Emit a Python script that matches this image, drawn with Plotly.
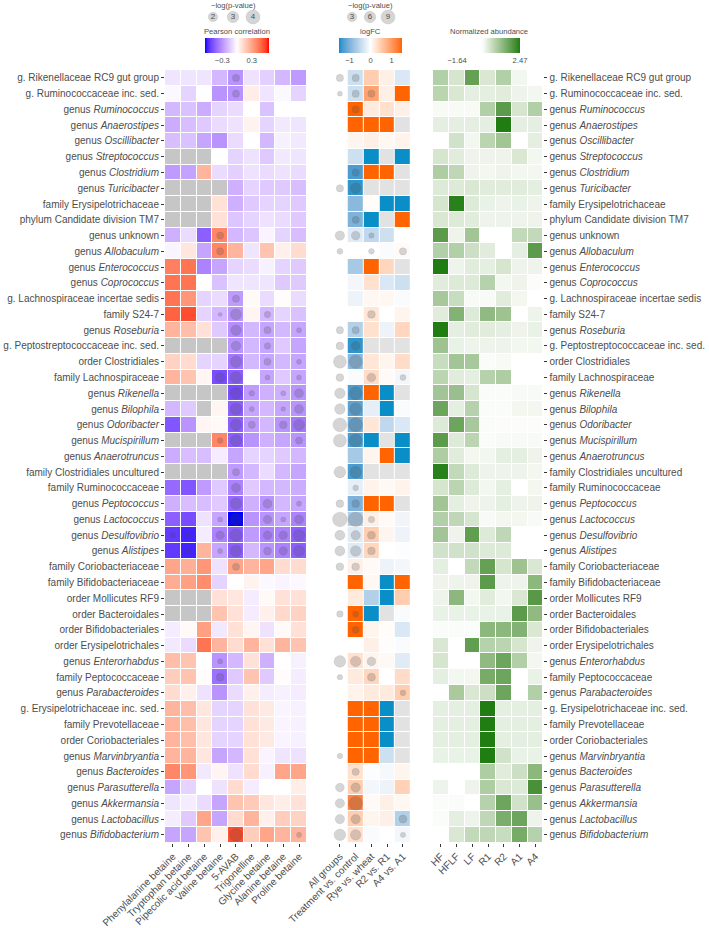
import math
import plotly.graph_objects as go

N = None
rows = [
    "g. Rikenellaceae RC9 gut group", "g. Ruminococcaceae inc. sed.",
    "genus <i>Ruminococcus</i>", "genus <i>Anaerostipes</i>", "genus <i>Oscillibacter</i>",
    "genus <i>Streptococcus</i>", "genus <i>Clostridium</i>", "genus <i>Turicibacter</i>",
    "family Erysipelotrichaceae", "phylum Candidate division TM7", "genus unknown",
    "genus <i>Allobaculum</i>", "genus <i>Enterococcus</i>", "genus <i>Coprococcus</i>",
    "g. Lachnospiraceae incertae sedis", "family S24-7", "genus <i>Roseburia</i>",
    "g. Peptostreptococcaceae inc. sed.", "order Clostridiales", "family Lachnospiraceae",
    "genus <i>Rikenella</i>", "genus <i>Bilophila</i>", "genus <i>Odoribacter</i>",
    "genus <i>Mucispirillum</i>", "genus <i>Anaerotruncus</i>", "family Clostridiales uncultured",
    "family Ruminococcaceae", "genus <i>Peptococcus</i>", "genus <i>Lactococcus</i>",
    "genus <i>Desulfovibrio</i>", "genus <i>Alistipes</i>", "family Coriobacteriaceae",
    "family Bifidobacteriaceae", "order Mollicutes RF9", "order Bacteroidales",
    "order Bifidobacteriales", "order Erysipelotrichales", "genus <i>Enterorhabdus</i>",
    "family Peptococcaceae", "genus <i>Parabacteroides</i>", "g. Erysipelotrichaceae inc. sed.",
    "family Prevotellaceae", "order Coriobacteriales", "genus <i>Marvinbryantia</i>",
    "genus <i>Bacteroides</i>", "genus <i>Parasutterella</i>", "genus <i>Akkermansia</i>",
    "genus <i>Lactobacillus</i>", "genus <i>Bifidobacterium</i>",
]

corr_cols = ["Phenylalanine betaine", "Tryptophan betaine", "Pipecolic acid betaine",
             "Valine betaine", "5-AVAB", "Trigonelline", "Glycine betaine",
             "Alanine betaine", "Proline betaine"]
fc_cols = ["All groups", "Treatment vs. control", "Rye vs. wheat", "R2 vs. R1", "A4 vs. A1"]
ab_cols = ["HF", "HFLF", "LF", "R1", "R2", "A1", "A4"]

pearson = [
    [-0.07, -0.07, -0.07, -0.2, -0.3, -0.08, -0.13, -0.2, -0.28],
    [-0.02, -0.12, 0.0, -0.3, -0.3, 0.06, -0.07, -0.02, -0.12],
    [-0.2, -0.17, -0.23, -0.12, -0.1, 0.0, -0.17, 0.0, 0.0],
    [-0.23, -0.18, -0.15, -0.1, -0.08, 0.04, -0.12, -0.06, -0.07],
    [-0.18, -0.17, -0.25, -0.3, -0.1, 0.0, -0.2, -0.04, -0.06],
    [N, N, N, 0.0, -0.12, -0.08, -0.15, -0.06, -0.07],
    [-0.28, -0.26, 0.25, -0.1, -0.13, -0.08, -0.1, -0.08, -0.1],
    [N, N, N, N, -0.22, -0.12, -0.15, -0.15, -0.18],
    [N, N, N, 0.1, -0.22, -0.15, -0.12, -0.12, -0.15],
    [N, N, N, 0.1, -0.16, -0.12, -0.08, -0.1, -0.15],
    [-0.22, -0.1, -0.45, 0.4, -0.2, -0.16, -0.03, -0.12, -0.18],
    [-0.03, 0.08, -0.25, 0.4, 0.25, -0.07, 0.2, 0.05, 0.12],
    [0.42, 0.45, -0.35, -0.25, -0.12, -0.1, -0.04, -0.12, -0.15],
    [0.45, 0.45, 0.0, -0.17, -0.07, -0.07, -0.07, -0.15, -0.15],
    [0.45, 0.35, -0.12, -0.1, -0.28, 0.02, -0.1, 0.01, -0.1],
    [0.5, 0.55, -0.12, -0.2, -0.3, 0.03, -0.2, -0.12, -0.17],
    [0.25, 0.22, 0.1, -0.15, -0.32, -0.2, -0.25, -0.2, -0.25],
    [N, N, N, N, -0.3, -0.2, -0.25, -0.15, -0.25],
    [0.15, 0.12, -0.12, -0.12, -0.38, -0.2, -0.25, -0.2, -0.25],
    [0.25, 0.2, 0.03, -0.5, -0.45, 0.0, -0.25, -0.15, -0.25],
    [N, N, N, N, -0.5, -0.28, -0.22, -0.22, -0.3],
    [-0.2, -0.15, N, 0.03, -0.45, -0.25, -0.2, -0.25, -0.3],
    [-0.48, -0.3, 0.03, 0.02, -0.45, -0.28, -0.2, -0.3, -0.38],
    [N, N, N, 0.4, -0.45, -0.3, -0.22, -0.25, -0.3],
    [-0.23, -0.18, -0.18, -0.05, -0.25, -0.12, -0.12, -0.15, -0.2],
    [N, N, N, N, -0.28, -0.2, -0.1, -0.2, -0.25],
    [-0.42, -0.48, -0.28, -0.15, -0.35, -0.15, -0.2, -0.2, -0.23],
    [-0.22, -0.18, -0.18, -0.15, -0.42, -0.22, -0.3, -0.2, -0.25],
    [-0.45, -0.5, -0.08, -0.25, -0.65, -0.3, -0.3, -0.25, -0.35],
    [-0.55, -0.6, -0.05, -0.35, -0.45, -0.28, -0.35, -0.35, -0.45],
    [-0.55, -0.6, 0.25, -0.25, -0.45, -0.2, -0.3, -0.35, -0.45],
    [0.3, 0.27, 0.35, -0.08, 0.3, 0.25, 0.3, 0.12, 0.12],
    [0.28, 0.32, 0.38, -0.12, 0.0, 0.04, -0.02, -0.03, -0.02],
    [N, N, N, 0.1, 0.08, -0.05, 0.02, 0.1, 0.1],
    [N, N, N, 0.2, 0.1, -0.05, 0.05, 0.13, 0.15],
    [-0.05, 0.02, 0.32, -0.06, 0.1, 0.03, -0.08, 0.02, 0.1],
    [-0.06, -0.1, 0.45, 0.25, 0.12, 0.25, 0.1, 0.25, 0.2],
    [0.22, 0.2, 0.0, -0.3, -0.2, 0.1, -0.22, 0.0, -0.04],
    [0.17, 0.2, 0.01, -0.4, -0.15, 0.2, -0.15, 0.01, -0.05],
    [0.12, 0.05, -0.08, -0.3, -0.1, 0.05, -0.05, -0.04, -0.05],
    [0.25, 0.22, 0.08, -0.12, -0.12, 0.1, 0.07, -0.03, -0.04],
    [0.25, 0.22, 0.08, -0.12, -0.12, 0.1, 0.07, -0.03, -0.04],
    [0.25, 0.22, 0.08, -0.12, -0.12, 0.1, 0.07, -0.03, -0.04],
    [0.25, 0.25, 0.08, -0.25, -0.2, 0.1, -0.03, -0.07, -0.08],
    [0.4, 0.35, -0.06, 0.03, -0.08, 0.12, -0.04, 0.3, 0.3],
    [-0.25, -0.12, 0.0, -0.08, 0.12, -0.05, 0.0, 0.0, 0.06],
    [-0.07, -0.05, -0.1, -0.25, 0.2, 0.18, 0.08, 0.06, 0.1],
    [-0.05, -0.15, 0.3, -0.25, 0.12, 0.25, 0.05, 0.17, 0.15],
    [-0.25, -0.25, 0.2, 0.05, 0.55, 0.17, 0.3, 0.25, 0.25],
]

# logFC for Treatment vs. control, Rye vs. wheat, R2 vs. R1, A4 vs. A1
logfc = [
    [-0.4, 0.5, 0.15, -0.3], [-0.4, 0.9, 0.15, 1.5], [1.5, 0.2, 0.3, 0.15],
    [1.5, 1.5, 1.5, N], [0.1, 0.15, 0.08, 0.12], [-0.4, -1.5, N, -1.5],
    [-1.3, 1.5, 1.5, N], [-1.4, N, N, N], [-0.9, 0.03, -1.5, -1.5],
    [-1.0, -1.5, N, 1.5], [-0.25, -0.5, -0.4, 0.0], [0.0, 0.0, -0.05, 0.05],
    [-0.7, 1.5, 0.4, N], [-0.1, 0.3, -0.3, -0.4], [-0.15, 0.08, 0.08, -0.05],
    [0.0, 0.25, 0.0, 0.1], [-0.6, 0.3, -0.15, 0.4], [-1.4, N, N, N],
    [-0.9, 0.25, 0.1, 0.35], [-0.05, 0.35, 0.05, -0.1], [-1.3, 1.5, -1.5, N],
    [-1.2, -0.2, -1.5, -0.05], [-1.1, 0.25, -0.5, -0.3], [-1.3, -1.5, N, -1.5],
    [-0.7, 0.1, 1.5, -1.5], [-1.3, N, N, N], [-0.2, 0.12, 0.06, 0.12],
    [-1.0, 1.5, 1.5, N], [-0.6, 0.15, 0.05, -0.12], [-0.25, 0.5, 0.1, -0.15],
    [-0.25, 0.4, 0.0, -0.03], [0.15, 0.05, -0.15, -0.1], [1.5, 0.08, -1.5, 1.5],
    [0.2, -0.6, -1.5, 0.5], [1.5, -1.5, N, -0.05], [1.5, 0.1, 0.03, -0.3],
    [0.0, 0.15, 0.02, -0.05], [0.3, 0.1, 0.06, -0.25], [0.2, 0.4, 0.0, 0.35],
    [0.12, 0.2, 0.2, 0.5], [1.5, 1.5, -1.5, N], [1.5, 1.5, -1.5, N],
    [1.5, 1.5, -1.5, N], [1.5, 1.5, -0.4, N], [0.3, -0.03, -0.08, 0.1],
    [0.5, -0.1, -0.15, 0.45], [1.2, 0.05, 0.15, 0.08], [0.5, 0.1, 0.15, -0.6],
    [0.3, -0.05, 0.0, -0.1],
]

abundance = [
    [0.9, 0.5, 1.8, 0.45, 0.9, 0.15, -0.5], [0.8, 0.45, 0.3, 0.3, 0.35, 0.2, 0.15],
    [0.1, 0.1, 0.1, 0.9, 1.9, 0.5, 0.9], [0.3, 0.3, 0.3, 0.3, 2.47, 0.3, 0.3],
    [-0.3, 0.55, 0.15, 0.8, 1.1, -0.3, 0.3], [0.5, 0.35, 0.2, 0.2, 0.2, 0.45, 0.15],
    [0.95, 0.75, 0.2, 0.15, 0.2, 0.15, 0.15], [0.4, 0.4, 0.45, 0.35, 0.35, 0.35, 0.3],
    [0.5, 2.4, 0.4, 0.25, 0.2, 0.25, 0.2], [0.45, 0.4, 0.35, 0.2, 0.2, 0.2, 0.2],
    [1.9, 0.2, 1.1, -0.5, -0.5, 0.7, 0.7], [0.9, 0.9, 0.6, 0.35, -0.5, 0.3, 1.9],
    [2.47, 0.2, 0.35, 0.3, 0.5, 0.2, 0.2], [0.35, 0.4, 0.4, 0.85, 0.15, 0.2, 0.0],
    [1.05, 0.65, 0.1, 0.1, 0.35, 0.15, -0.3], [0.35, 1.45, 0.4, 1.3, 1.15, -0.4, 0.2],
    [2.47, 0.3, 0.35, 0.35, 0.3, 0.2, 0.25], [1.15, 0.25, 0.2, 0.2, 0.2, 0.15, 0.15],
    [0.65, 1.1, 1.05, 0.05, 0.1, -0.2, -0.3], [0.8, 0.35, 0.3, 0.85, 0.95, -0.1, -0.2],
    [1.1, 1.2, 0.5, 0.05, 0.05, 0.1, 0.1], [1.7, 0.3, 0.85, 0.05, 0.05, 0.15, 0.15],
    [0.4, 1.7, 1.05, 0.05, 0.0, 0.0, 0.0], [1.9, 0.4, 0.8, 0.05, 0.1, 0.1, 0.1],
    [0.95, 0.35, 0.15, 0.15, 0.3, 0.3, 0.2], [2.4, 0.7, 0.4, 0.2, 0.2, 0.2, 0.15],
    [0.5, 0.8, 0.4, 0.15, 0.3, -0.1, 0.15], [1.1, 0.3, 0.2, 0.2, 0.3, 0.2, 0.2],
    [0.9, 0.75, 0.5, 0.1, 0.15, 0.15, 0.1], [1.1, 0.2, 1.85, 0.4, 0.75, -0.5, -0.5],
    [0.55, 0.55, 0.55, 0.4, 0.4, -0.5, -0.5], [0.3, -0.5, 0.7, 1.8, 0.5, 1.15, 0.45],
    [0.2, 0.2, 0.2, 1.9, 0.2, 0.2, 1.35], [0.2, 1.35, 0.15, 0.35, 0.15, 0.45, 1.95],
    [0.25, 0.25, 0.25, 0.25, 0.25, 1.9, 1.3], [0.05, 0.05, 0.05, 1.35, 1.35, 1.45, 0.45],
    [0.45, -0.5, 1.85, 0.85, 0.8, 0.5, 0.2], [0.5, -0.5, -0.5, 1.3, 1.7, 0.9, 0.15],
    [0.3, 0.15, 0.15, 1.6, 1.7, -0.5, 0.25], [-0.3, 1.0, 0.45, 0.6, 1.7, -0.5, 0.9],
    [0.3, 0.3, 0.3, 2.47, 0.3, 0.3, 0.3], [0.3, 0.3, 0.3, 2.47, 0.3, 0.3, 0.3],
    [0.3, 0.3, 0.3, 2.47, 0.3, 0.3, 0.3], [0.25, 0.25, 0.25, 2.47, 0.55, 0.25, 0.25],
    [-0.3, -0.3, -0.3, 0.95, 0.35, 0.6, 1.35], [0.2, -0.1, 0.2, 0.95, 0.45, 0.4, 2.1],
    [0.05, 0.05, -0.1, 0.85, 1.7, 0.55, 1.2], [0.05, 0.3, 0.2, 0.75, 1.55, 1.7, 0.2],
    [-0.3, 0.45, 0.7, 0.75, 0.65, 1.6, 0.85],
]

# (row, column, -log(p-value)) for significant correlations
corr_pvals = [
    (0, 4, 2.0), (1, 4, 2.0), (10, 3, 2.0), (11, 3, 2.0), (14, 4, 2.0),
    (15, 3, 1.3), (15, 4, 3.4), (15, 6, 1.8),
    (16, 4, 3.1), (16, 6, 2.0), (16, 8, 1.5),
    (17, 4, 2.8), (17, 6, 1.8),
    (18, 4, 3.6), (18, 6, 2.0), (18, 8, 1.5),
    (19, 3, 2.8), (19, 4, 3.6), (19, 6, 1.5), (19, 8, 1.5),
    (20, 4, 3.6), (20, 5, 1.6), (20, 7, 1.5), (20, 8, 2.6),
    (21, 4, 3.6), (21, 5, 1.5), (21, 7, 1.4), (21, 8, 2.6),
    (22, 4, 3.4), (22, 5, 2.0), (22, 7, 2.2), (22, 8, 3.4),
    (23, 3, 1.6), (23, 4, 3.6), (23, 8, 2.0),
    (25, 4, 2.0), (26, 4, 2.6),
    (27, 4, 3.6), (27, 6, 2.6), (27, 8, 1.5),
    (28, 3, 1.5), (28, 4, 4.0), (28, 6, 2.4), (28, 7, 1.5), (28, 8, 2.6),
    (29, 0, 1.6), (29, 1, 1.5), (29, 3, 2.4), (29, 4, 4.0), (29, 6, 2.4), (29, 7, 2.4), (29, 8, 3.6),
    (30, 1, 1.5), (30, 3, 1.5), (30, 4, 3.6), (30, 6, 2.2), (30, 7, 2.4), (30, 8, 3.4),
    (31, 4, 2.0), (37, 3, 1.5), (38, 3, 2.2), (48, 4, 4.2), (48, 8, 1.5),
]

# (row, column, -log(p-value)) for differential abundance tests
fc_pvals = [
    (0, 0, 2.5), (0, 1, 2.5), (1, 0, 1.3), (1, 1, 2.5), (1, 2, 2.5), (2, 1, 2.5),
    (6, 1, 2.5), (7, 0, 2.5), (7, 1, 5.0), (9, 1, 2.5),
    (10, 0, 4.0), (10, 1, 3.5), (10, 2, 1.5), (11, 0, 1.7), (11, 2, 1.6), (11, 4, 2.5),
    (15, 2, 2.8), (16, 0, 2.5), (16, 1, 2.5), (17, 0, 2.8), (17, 1, 3.5),
    (18, 0, 7.5), (18, 1, 8.0), (19, 0, 2.8), (19, 2, 3.5), (19, 4, 1.7),
    (20, 0, 5.0), (20, 1, 7.5), (21, 0, 5.0), (21, 1, 6.5), (22, 0, 8.5), (22, 1, 8.5),
    (23, 0, 7.5), (23, 1, 7.5), (25, 0, 6.0), (25, 1, 6.0), (26, 1, 1.6),
    (27, 0, 2.8), (27, 1, 2.8), (28, 0, 9.5), (28, 1, 9.5), (28, 2, 2.0),
    (29, 0, 4.5), (29, 1, 4.0), (29, 2, 3.0), (30, 0, 4.5), (30, 1, 5.0), (30, 2, 2.8),
    (31, 0, 2.8), (31, 1, 2.8), (34, 0, 2.0), (34, 1, 1.7), (35, 1, 2.3),
    (37, 0, 6.0), (37, 1, 5.0), (37, 2, 3.5), (38, 0, 1.5), (38, 2, 3.0), (39, 4, 1.6),
    (43, 0, 1.5), (44, 1, 2.5), (45, 0, 3.5), (45, 1, 4.0), (46, 0, 4.0), (46, 1, 8.5),
    (47, 0, 4.0), (47, 1, 4.0), (47, 4, 3.0), (48, 0, 6.0), (48, 1, 5.0), (48, 4, 1.4),
]

corr_legend = [2, 3, 4]
fc_legend = [3, 6, 9]

# ---------------- styling helpers ----------------
W, H = 709, 928
TXT = "#4d4d4d"
FONT = "Liberation Sans, Arial, sans-serif"


def _lin(c):
    c = c / 255.0
    return c / 12.92 if c <= 0.04045 else ((c + 0.055) / 1.055) ** 2.4


def _f(t):
    d = 6 / 29
    return t ** (1 / 3) if t > d ** 3 else t / (3 * d * d) + 4 / 29


def _finv(t):
    d = 6 / 29
    return t ** 3 if t > d else 3 * d * d * (t - 4 / 29)


def to_lab(h):
    h = h.lstrip("#")
    r, g, b = (_lin(int(h[i:i + 2], 16)) for i in (0, 2, 4))
    X = (0.4124 * r + 0.3576 * g + 0.1805 * b) / 0.95047
    Y = 0.2126 * r + 0.7152 * g + 0.0722 * b
    Z = (0.0193 * r + 0.1192 * g + 0.9505 * b) / 1.08883
    return (116 * _f(Y) - 16, 500 * (_f(X) - _f(Y)), 200 * (_f(Y) - _f(Z)))


def from_lab(L, a, b):
    fy = (L + 16) / 116
    X = 0.95047 * _finv(fy + a / 500)
    Y = _finv(fy)
    Z = 1.08883 * _finv(fy - b / 200)
    rl = 3.2406 * X - 1.5372 * Y - 0.4986 * Z
    gl = -0.9689 * X + 1.8758 * Y + 0.0415 * Z
    bl = 0.0557 * X - 0.2040 * Y + 1.0570 * Z

    def g(c):
        c = max(0.0, min(1.0, c))
        c = 12.92 * c if c <= 0.0031308 else 1.055 * c ** (1 / 2.4) - 0.055
        return int(round(c * 255))
    return "rgb(%d,%d,%d)" % (g(rl), g(gl), g(bl))


def gradient2(low, mid, high, zmin, zmax, n=12):
    # midpoint at 0, rescaled by the larger extent, Lab interpolation
    ext = max(abs(zmin), abs(zmax))
    L0, M0, H0 = to_lab(low), to_lab(mid), to_lab(high)
    stops = []
    for i in range(n * 2 + 1):
        v = zmin + (zmax - zmin) * i / (n * 2)
        t = 0.5 + 0.5 * v / ext
        if t < 0.5:
            s = t / 0.5
            lab = [L0[k] + (M0[k] - L0[k]) * s for k in range(3)]
        else:
            s = (t - 0.5) / 0.5
            lab = [M0[k] + (H0[k] - M0[k]) * s for k in range(3)]
        stops.append([i / (n * 2), from_lab(*lab)])
    return stops


def corr_size(v):
    return math.sqrt(max(16 + 153 * (v - 1.3) / 3.0, 9))


def fc_size(v):
    return math.sqrt(max(25 + 200 * (v - 1.3) / 8.7, 9))


BUB_FILL = "rgba(70,70,70,0.32)"
BUB_LINE = "rgba(70,70,70,0.25)"

nrow = len(rows)
top_px, row_h = 70.0, 15.77
bot_px = top_px + nrow * row_h
ydom = [1 - bot_px / H, 1 - top_px / H]
cw = 15.77
xl0 = 165.0
xm0 = 332.0
xr0 = 433.0
xdom1 = [xl0 / W, (xl0 + 9 * cw) / W]
xdom2 = [xm0 / W, (xm0 + 5 * cw) / W]
xdom3 = [xr0 / W, (xr0 + 7 * cw) / W]


def cbar(xc, tv, tt, ln):
    return dict(orientation="h", x=xc / W, xanchor="center", y=1 - 38 / H, yanchor="top",
                len=ln, lenmode="pixels", thickness=15, thicknessmode="pixels",
                outlinewidth=0, ticks="", xpad=0, ypad=0, tickvals=tv, ticktext=tt,
                tickfont=dict(size=7.6, color=TXT, family=FONT))


fig = go.Figure()

# ---- left: Pearson correlation ----
cz_min, cz_max = -0.65, 0.65
fig.add_trace(go.Heatmap(
    z=[[1 if v is None else None for v in r] for r in pearson],
    x=list(range(9)), y=list(range(nrow)),
    colorscale=[[0, "#c6c6c6"], [1, "#c6c6c6"]], showscale=False,
    xgap=1, ygap=1, hoverinfo="skip", xaxis="x", yaxis="y"))
fig.add_trace(go.Heatmap(
    z=pearson, x=list(range(9)), y=list(range(nrow)),
    colorscale=gradient2("#0000ff", "#ffffff", "#ff0000", cz_min, cz_max),
    zmin=cz_min, zmax=cz_max, xgap=1, ygap=1, xaxis="x", yaxis="y",
    colorbar=cbar(237, [-0.3, 0.3], ["\u22120.3", "0.3"], 64)))
fig.add_trace(go.Scatter(
    x=[c for r, c, v in corr_pvals], y=[r for r, c, v in corr_pvals],
    mode="markers", xaxis="x", yaxis="y", hoverinfo="skip", showlegend=False,
    marker=dict(size=[corr_size(v) for r, c, v in corr_pvals], color=BUB_FILL,
                line=dict(width=0.6, color=BUB_LINE))))

# ---- middle: logFC ----
fz = 1.5
fig.add_trace(go.Heatmap(
    z=[[1 if v is None else None for v in r] for r in logfc],
    x=[1, 2, 3, 4], y=list(range(nrow)),
    colorscale=[[0, "#e2e2e2"], [1, "#e2e2e2"]], showscale=False,
    xgap=1, ygap=1, hoverinfo="skip", xaxis="x2", yaxis="y2"))
fig.add_trace(go.Heatmap(
    z=logfc, x=[1, 2, 3, 4], y=list(range(nrow)),
    colorscale=gradient2("#0a8ec8", "#ffffff", "#ff6400", -fz, fz),
    zmin=-fz, zmax=fz, xgap=1, ygap=1, xaxis="x2", yaxis="y2",
    colorbar=cbar(370.5, [-1, 0, 1], ["\u22121", "0", "1"], 63)))
fig.add_trace(go.Scatter(
    x=[c for r, c, v in fc_pvals], y=[r for r, c, v in fc_pvals],
    mode="markers", xaxis="x2", yaxis="y2", hoverinfo="skip", showlegend=False,
    marker=dict(size=[fc_size(v) for r, c, v in fc_pvals], color=BUB_FILL,
                line=dict(width=0.6, color=BUB_LINE))))

# ---- right: normalized abundance ----
az_min, az_max = -1.64, 2.47
fig.add_trace(go.Heatmap(
    z=abundance, x=list(range(7)), y=list(range(nrow)),
    colorscale=gradient2("#ffffff", "#ffffff", "#1f7d12", az_min, az_max),
    zmin=az_min, zmax=az_max, xgap=1, ygap=1, xaxis="x3", yaxis="y3",
    colorbar=cbar(488.5, [az_min, az_max], ["\u22121.64", "2.47"], 63)))

# ---- bubble size legends (pixel-coordinate overlay axis) ----
leg_x1 = [213, 233, 253]
leg_x2 = [352, 370, 388]
leg_d = [9.5, 11.5, 14]
fig.add_trace(go.Scatter(
    x=leg_x1, y=[17] * 3, mode="markers+text", text=[str(v) for v in corr_legend],
    textfont=dict(size=8, color=TXT, family=FONT), textposition="middle center",
    marker=dict(size=leg_d, color=BUB_FILL, line=dict(width=0.6, color=BUB_LINE)),
    xaxis="x4", yaxis="y4", hoverinfo="skip", showlegend=False, cliponaxis=False))
fig.add_trace(go.Scatter(
    x=leg_x2, y=[17] * 3, mode="markers+text", text=[str(v) for v in fc_legend],
    textfont=dict(size=8, color=TXT, family=FONT), textposition="middle center",
    marker=dict(size=leg_d, color=BUB_FILL, line=dict(width=0.6, color=BUB_LINE)),
    xaxis="x4", yaxis="y4", hoverinfo="skip", showlegend=False, cliponaxis=False))

tick_common = dict(showgrid=False, zeroline=False, showline=False, ticks="outside",
                   ticklen=3, tickwidth=1, tickcolor="#333333", automargin=False,
                   fixedrange=True, tickfont=dict(size=10, color=TXT, family=FONT))

fig.update_layout(
    width=W, height=H, template="none",
    margin=dict(l=0, r=0, t=0, b=0, pad=0),
    paper_bgcolor="white", plot_bgcolor="rgba(0,0,0,0)",
    font=dict(family=FONT, color=TXT), showlegend=False,
    xaxis=dict(domain=xdom1, range=[-0.5, 8.5], anchor="y", tickvals=list(range(9)),
               ticktext=corr_cols, tickangle=-45, **tick_common),
    yaxis=dict(domain=ydom, range=[nrow - 0.5, -0.5], anchor="x",
               tickvals=list(range(nrow)), ticktext=rows, **tick_common),
    xaxis2=dict(domain=xdom2, range=[-0.5, 4.5], anchor="y2", tickvals=list(range(5)),
                ticktext=fc_cols, tickangle=-45, **tick_common),
    yaxis2=dict(domain=ydom, range=[nrow - 0.5, -0.5], anchor="x2", showticklabels=False,
                showgrid=False, zeroline=False, showline=False, ticks="", fixedrange=True),
    xaxis3=dict(domain=xdom3, range=[-0.5, 6.5], anchor="y3", tickvals=list(range(7)),
                ticktext=ab_cols, tickangle=-45, **tick_common),
    yaxis3=dict(domain=ydom, range=[nrow - 0.5, -0.5], anchor="x3", side="right",
                tickvals=list(range(nrow)), ticktext=rows, **tick_common),
    xaxis4=dict(domain=[0, 1], range=[0, W], anchor="y4", visible=False, fixedrange=True),
    yaxis4=dict(domain=[0, 1], range=[H, 0], anchor="x4", visible=False, fixedrange=True),
)

ann_font = dict(size=7.6, color=TXT, family=FONT)
for txt, xp, yp in [("\u2212log(p-value)", 233, 5.5), ("\u2212log(p-value)", 370, 5.5),
                    ("Pearson correlation", 237, 32), ("logFC", 370.5, 32),
                    ("Normalized abundance", 488.5, 32)]:
    fig.add_annotation(text=txt, x=xp / W, y=1 - yp / H, xref="paper", yref="paper",
                       showarrow=False, xanchor="center", yanchor="middle", font=ann_font)

fig.write_html("out.html", config={"displayModeBar": False},
               post_script="document.body.style.margin='0';")
